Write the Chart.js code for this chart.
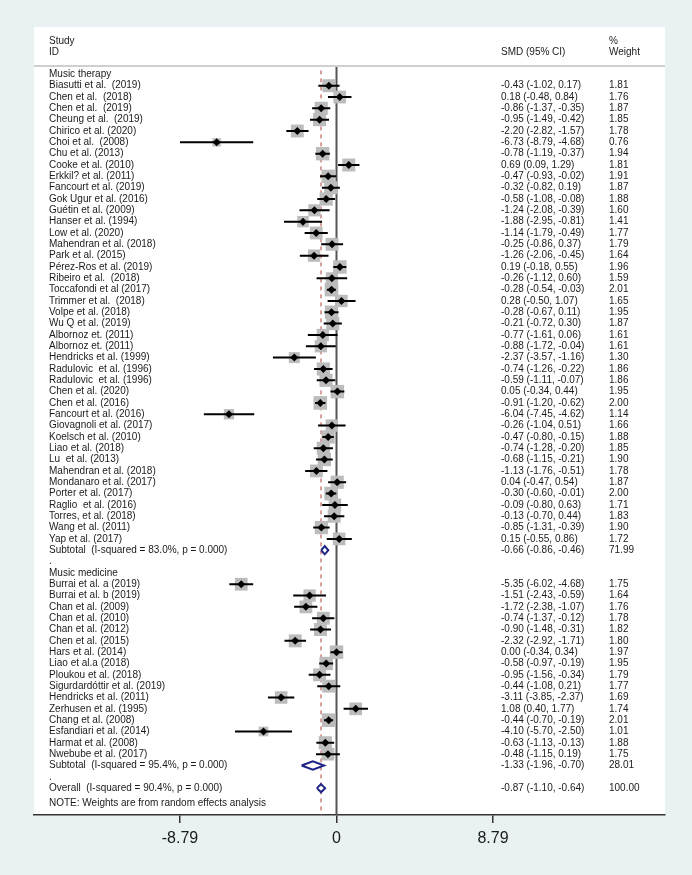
<!DOCTYPE html>
<html>
<head>
<meta charset="utf-8">
<script src="https://cdn.jsdelivr.net/npm/chart.js@4.4.1/dist/chart.umd.min.js"></script>
<style>
  html, body { margin: 0; padding: 0; background: #e9f1f3; }
  canvas { display: block; }
</style>
</head>
<body>
<canvas id="forest" width="692" height="875"></canvas>
<script>
// Music therapy studies
const therapyNames = [
  'Biasutti et al.  (2019)', 'Chen et al.  (2018)', 'Chen et al.  (2019)', 'Cheung et al.  (2019)',
  'Chirico et al. (2020)', 'Choi et al.  (2008)', 'Chu et al. (2013)', 'Cooke et al. (2010)',
  'Erkkil? et al. (2011)', 'Fancourt et al. (2019)', 'Gok Ugur et al. (2016)', 'Guétin et al. (2009)',
  'Hanser et al. (1994)', 'Low et al. (2020)', 'Mahendran et al. (2018)', 'Park et al. (2015)',
  'Pérez-Ros et al. (2019)', 'Ribeiro et al.  (2018)', 'Toccafondi et al (2017)', 'Trimmer et al.  (2018)',
  'Volpe et al. (2018)', 'Wu Q et al. (2019)', 'Albornoz et. (2011)', 'Albornoz et. (2011)',
  'Hendricks et al. (1999)', 'Radulovic  et al. (1996)', 'Radulovic  et al. (1996)', 'Chen et al. (2020)',
  'Chen et al. (2016)', 'Fancourt et al. (2016)', 'Giovagnoli et al. (2017)', 'Koelsch et al. (2010)',
  'Liao et al. (2018)', 'Lu  et al. (2013)', 'Mahendran et al. (2018)', 'Mondanaro et al. (2017)',
  'Porter et al. (2017)', 'Raglio  et al. (2016)', 'Torres, et al. (2018)', 'Wang et al. (2011)',
  'Yap et al. (2017)'
];
const therapySmd = [-0.43, 0.18, -0.86, -0.95, -2.20, -6.73, -0.78, 0.69, -0.47, -0.32, -0.58, -1.24,
  -1.88, -1.14, -0.25, -1.26, 0.19, -0.26, -0.28, 0.28, -0.28, -0.21, -0.77, -0.88, -2.37, -0.74, -0.59,
  0.05, -0.91, -6.04, -0.26, -0.47, -0.74, -0.68, -1.13, 0.04, -0.30, -0.09, -0.13, -0.85, 0.15];
const therapyLo = [-1.02, -0.48, -1.37, -1.49, -2.82, -8.79, -1.19, 0.09, -0.93, -0.82, -1.08, -2.08,
  -2.95, -1.79, -0.86, -2.06, -0.18, -1.12, -0.54, -0.50, -0.67, -0.72, -1.61, -1.72, -3.57, -1.26, -1.11,
  -0.34, -1.20, -7.45, -1.04, -0.80, -1.28, -1.15, -1.76, -0.47, -0.60, -0.80, -0.70, -1.31, -0.55];
const therapyHi = [0.17, 0.84, -0.35, -0.42, -1.57, -4.68, -0.37, 1.29, -0.02, 0.19, -0.08, -0.39,
  -0.81, -0.49, 0.37, -0.45, 0.55, 0.60, -0.03, 1.07, 0.11, 0.30, 0.06, -0.04, -1.16, -0.22, -0.07,
  0.44, -0.62, -4.62, 0.51, -0.15, -0.20, -0.21, -0.51, 0.54, -0.01, 0.63, 0.44, -0.39, 0.86];
const therapyWeight = [1.81, 1.76, 1.87, 1.85, 1.78, 0.76, 1.94, 1.81, 1.91, 1.87, 1.88, 1.60,
  1.41, 1.77, 1.79, 1.64, 1.96, 1.59, 2.01, 1.65, 1.95, 1.87, 1.61, 1.61, 1.30, 1.86, 1.86,
  1.95, 2.00, 1.14, 1.66, 1.88, 1.85, 1.90, 1.78, 1.87, 2.00, 1.71, 1.83, 1.90, 1.72];

// Music medicine studies
const medicineNames = [
  'Burrai et al. a (2019)', 'Burrai et al. b (2019)', 'Chan et al. (2009)', 'Chan et al. (2010)',
  'Chan et al. (2012)', 'Chen et al. (2015)', 'Hars et al. (2014)', 'Liao et al.a (2018)',
  'Ploukou et al. (2018)', 'Sigurdardóttir et al. (2019)', 'Hendricks et al. (2011)', 'Zerhusen et al. (1995)',
  'Chang et al. (2008)', 'Esfandiari et al. (2014)', 'Harmat et al. (2008)', 'Nwebube et al. (2017)'
];
const medicineSmd = [-5.35, -1.51, -1.72, -0.74, -0.90, -2.32, 0.00, -0.58, -0.95, -0.44, -3.11, 1.08, -0.44, -4.10, -0.63, -0.48];
const medicineLo = [-6.02, -2.43, -2.38, -1.37, -1.48, -2.92, -0.34, -0.97, -1.56, -1.08, -3.85, 0.40, -0.70, -5.70, -1.13, -1.15];
const medicineHi = [-4.68, -0.59, -1.07, -0.12, -0.31, -1.71, 0.34, -0.19, -0.34, 0.21, -2.37, 1.77, -0.19, -2.50, -0.13, 0.19];
const medicineWeight = [1.75, 1.64, 1.76, 1.78, 1.82, 1.80, 1.97, 1.95, 1.79, 1.77, 1.69, 1.74, 2.01, 1.01, 1.88, 1.75];

// pooled estimates: therapy subtotal, medicine subtotal, overall
const pooledLabels = ['Subtotal  (I-squared = 83.0%, p = 0.000)', 'Subtotal  (I-squared = 95.4%, p = 0.000)', 'Overall  (I-squared = 90.4%, p = 0.000)'];
const pooledSmd = [-0.66, -1.33, -0.87];
const pooledLo = [-0.86, -1.96, -1.10];
const pooledHi = [-0.46, -0.70, -0.64];
const pooledWeight = [71.99, 28.01, 100.00];

const groupLabels = ['Music therapy', 'Music medicine'];
const xTicks = [-8.79, 0, 8.79];
const xTickLabels = ['-8.79', '0', '8.79'];

// row layout (top to bottom)
const rows = [];
rows.push({ text: groupLabels[0] });
therapyNames.forEach((n, i) => rows.push({ text: n, smd: therapySmd[i], lo: therapyLo[i], hi: therapyHi[i], w: therapyWeight[i] }));
rows.push({ text: pooledLabels[0], smd: pooledSmd[0], lo: pooledLo[0], hi: pooledHi[0], w: pooledWeight[0], pooled: true });
rows.push({ text: '.' });
rows.push({ text: groupLabels[1] });
medicineNames.forEach((n, i) => rows.push({ text: n, smd: medicineSmd[i], lo: medicineLo[i], hi: medicineHi[i], w: medicineWeight[i] }));
rows.push({ text: pooledLabels[1], smd: pooledSmd[1], lo: pooledLo[1], hi: pooledHi[1], w: pooledWeight[1], pooled: true });
rows.push({ text: '.' });
rows.push({ text: pooledLabels[2], smd: pooledSmd[2], lo: pooledLo[2], hi: pooledHi[2], w: pooledWeight[2], pooled: true });
rows.forEach((r, i) => r.y = i - 1);
const noteRow = rows.length - 1 + 0.35;

const Y_MIN = -1.65, Y_MAX = 64.37;
const studies = rows.filter(r => r.smd !== undefined && !r.pooled);
const pooled = rows.filter(r => r.pooled);

const ciLine = [];
studies.forEach(r => { ciLine.push({ x: r.lo, y: r.y }, { x: r.hi, y: r.y }, { x: null, y: null }); });

const diamonds = pooled.map(r => ({
  type: 'scatter', showLine: true, fill: false, order: 0,
  borderColor: '#1e2487', borderWidth: 2, pointRadius: 0,
  data: [{ x: r.lo, y: r.y }, { x: r.smd, y: r.y - 0.36 }, { x: r.hi, y: r.y }, { x: r.smd, y: r.y + 0.36 }, { x: r.lo, y: r.y }]
}));

const fmt = v => v.toFixed(2);
const FONT = '"Liberation Sans", Arial, sans-serif';

const panelPlugin = {
  id: 'panel',
  beforeDraw(chart) {
    const { ctx, chartArea: a } = chart;
    ctx.save();
    ctx.fillStyle = '#e9f1f3';
    ctx.fillRect(0, 0, chart.width, chart.height);
    ctx.fillStyle = '#ffffff';
    ctx.fillRect(a.left, 27, a.right - a.left, a.bottom - 27);
    ctx.strokeStyle = '#cfcfcf';
    ctx.lineWidth = 2;
    ctx.beginPath();
    ctx.moveTo(a.left, a.top - 1);
    ctx.lineTo(a.right, a.top - 1);
    ctx.stroke();
    ctx.restore();
  },
  afterDraw(chart) {
    const { ctx, chartArea: a } = chart;
    const ys = chart.scales.y;
    const xLab = a.left + 15, xCi = 501, xW = 609;
    ctx.save();
    ctx.fillStyle = '#1a1a1a';
    ctx.textBaseline = 'middle';
    ctx.font = '10px ' + FONT;
    ctx.fillText('Study', xLab, a.top - 26);
    ctx.fillText('ID', xLab, a.top - 15);
    ctx.fillText('SMD (95% CI)', xCi, a.top - 15);
    ctx.fillText('%', xW, a.top - 26);
    ctx.fillText('Weight', xW, a.top - 15);
    rows.forEach(r => {
      const py = ys.getPixelForValue(r.y);
      ctx.fillText(r.text, xLab, py);
      if (r.smd !== undefined) {
        ctx.fillText(`${fmt(r.smd)} (${fmt(r.lo)}, ${fmt(r.hi)})`, xCi, py);
        ctx.fillText(fmt(r.w), xW, py);
      }
    });
    ctx.fillText('NOTE: Weights are from random effects analysis', xLab, ys.getPixelForValue(noteRow));
    ctx.restore();
  }
};

new Chart(document.getElementById('forest'), {
  type: 'scatter',
  data: {
    datasets: [
      {
        label: 'zero', showLine: true, order: 5, pointRadius: 0,
        borderColor: '#555555', borderWidth: 2,
        data: [{ x: 0, y: Y_MIN }, { x: 0, y: Y_MAX }]
      },
      {
        label: 'overall', showLine: true, order: 4, pointRadius: 0,
        borderColor: '#b8625e', borderWidth: 1.2, borderDash: [4, 4],
        data: [{ x: pooledSmd[2], y: -1.35 }, { x: pooledSmd[2], y: Y_MAX }]
      },
      {
        label: 'weights', order: 3,
        pointStyle: 'rect', backgroundColor: '#bcbcbc', borderWidth: 0,
        pointRadius: studies.map(r => 6.8 * Math.sqrt(r.w)),
        data: studies.map(r => ({ x: r.smd, y: r.y }))
      },
      {
        label: 'ci', showLine: true, spanGaps: false, order: 2, pointRadius: 0,
        borderColor: '#000000', borderWidth: 2,
        data: ciLine
      },
      {
        label: 'estimates', order: 1,
        pointStyle: 'rectRot', pointRadius: 4, backgroundColor: '#000000', borderWidth: 0,
        data: studies.map(r => ({ x: r.smd, y: r.y }))
      },
      ...diamonds
    ]
  },
  options: {
    responsive: false,
    animation: false,
    devicePixelRatio: 1,
    layout: { padding: { left: 34, right: 27, top: 67, bottom: 0 } },
    plugins: { legend: { display: false }, tooltip: { enabled: false } },
    scales: {
      x: {
        type: 'linear', position: 'bottom',
        min: -16.99, max: 18.45,
        afterBuildTicks: scale => { scale.ticks = xTicks.map(v => ({ value: v })); },
        afterFit: scale => { scale.height = 60; },
        ticks: {
          autoSkip: false, maxRotation: 0, padding: 6,
          color: '#1a1a1a',
          font: { family: '"Liberation Sans Narrow", "Liberation Sans", Arial, sans-serif', size: 16 },
          callback: (v, i) => xTickLabels[i]
        },
        grid: { drawOnChartArea: false, drawTicks: true, tickLength: 8, color: '#333333', lineWidth: 1.5 },
        border: { display: true, color: '#333333', width: 1.5 }
      },
      y: {
        type: 'linear', display: false, reverse: true,
        min: Y_MIN, max: Y_MAX, offset: false
      }
    }
  },
  plugins: [panelPlugin]
});
</script>
</body>
</html>
